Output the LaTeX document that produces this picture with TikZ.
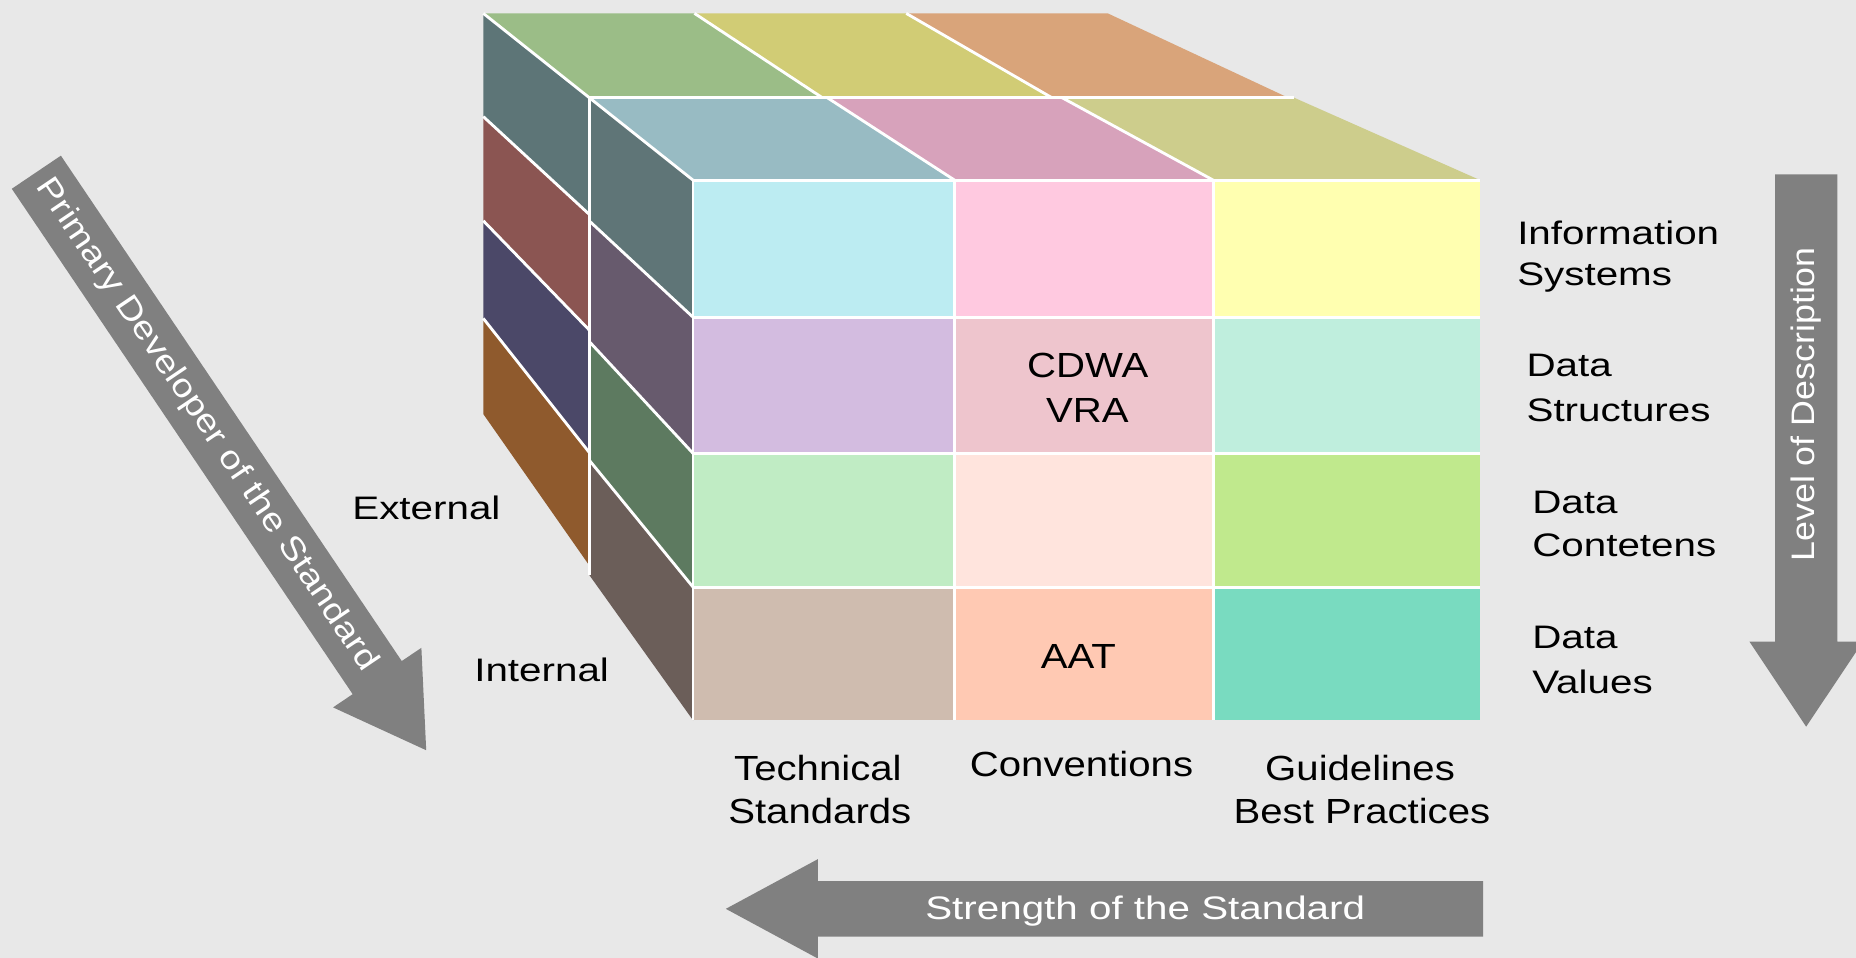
\documentclass[tikz,border=0pt]{standalone}
\usepackage{fontspec}
\setmainfont{Liberation Sans}
\newfontfamily\fA[FakeStretch=1.24]{Liberation Sans}
\newfontfamily\fB[FakeStretch=1.15]{Liberation Sans}
\newfontfamily\fC[FakeStretch=1.10]{Liberation Sans}
\newfontfamily\fD[FakeStretch=1.17]{Liberation Sans}
\definecolor{bg}{HTML}{E8E8E8}
\definecolor{agray}{HTML}{808080}
% top back row
\definecolor{tbA}{HTML}{9BBD87}
\definecolor{tbB}{HTML}{D1CC75}
\definecolor{tbC}{HTML}{D9A47A}
% top front row
\definecolor{tfA}{HTML}{98BBC3}
\definecolor{tfB}{HTML}{D7A2BB}
\definecolor{tfC}{HTML}{CDCD8C}
% back column (side)
\definecolor{sbA}{HTML}{5D7577}
\definecolor{sbB}{HTML}{8B5552}
\definecolor{sbC}{HTML}{4B4868}
\definecolor{sbD}{HTML}{8F5A2D}
% front column (side)
\definecolor{sfA}{HTML}{5F7577}
\definecolor{sfB}{HTML}{675A6D}
\definecolor{sfC}{HTML}{5D7A60}
\definecolor{sfD}{HTML}{6B5E59}
% front face
\definecolor{cAa}{HTML}{BCECF2}
\definecolor{cAb}{HTML}{FFC9E0}
\definecolor{cAc}{HTML}{FFFFB0}
\definecolor{cBa}{HTML}{D3BCE0}
\definecolor{cBb}{HTML}{EEC5CD}
\definecolor{cBc}{HTML}{BFEEDD}
\definecolor{cCa}{HTML}{C0ECC4}
\definecolor{cCb}{HTML}{FFE4DD}
\definecolor{cCc}{HTML}{C0E98D}
\definecolor{cDa}{HTML}{CFBCAF}
\definecolor{cDb}{HTML}{FFC9B3}
\definecolor{cDc}{HTML}{79DBC0}
\newcommand\quadface[5]{\fill[fill=#1] #2 -- #3 -- #4 -- #5 -- cycle;}
\begin{document}
\begin{tikzpicture}[x=1pt,y=-1pt,
  sep/.style={draw=white, line width=2.4pt},
  garrow/.style={fill=agray, draw=none},
  lblA/.style={font=\fA\fontsize{27.5}{36.5}\selectfont, inner sep=0pt, text=black},
  lblB/.style={font=\fB\fontsize{29.5}{37}\selectfont, inner sep=0pt, text=black},
  lblC/.style={font=\fC\fontsize{27.5}{33}\selectfont, inner sep=0pt, text=white},
  lblD/.style={font=\fD\fontsize{27.5}{33}\selectfont, inner sep=0pt, text=white}]
\useasboundingbox (0,0) rectangle (1568,809);
\fill[bg] (0,0) rectangle (1568,809);

% ---------- back slab ----------
\quadface{sbA}{(408.3,11.3)}{(497.7,82.4)}{(497.7,181)}{(408.3,98.5)}
\quadface{sbB}{(408.3,98.5)}{(497.7,181)}{(497.7,278.7)}{(408.3,186.5)}
\quadface{sbC}{(408.3,186.5)}{(497.7,278.7)}{(497.7,382.1)}{(408.3,269)}
\quadface{sbD}{(408.3,269)}{(497.7,382.1)}{(497.7,477.5)}{(408.3,349.8)}
\quadface{tbA}{(408.3,11.3)}{(586.7,11.3)}{(694.5,82.4)}{(497.7,82.4)}
\quadface{tbB}{(586.7,11.3)}{(765.6,11.3)}{(888.4,82.4)}{(694.5,82.4)}
\quadface{tbC}{(765.6,11.3)}{(935.9,11.3)}{(1088,82.4)}{(888.4,82.4)}

% ---------- front slab ----------
\quadface{sfA}{(497.7,82.4)}{(585.5,152.2)}{(585.5,268)}{(497.7,186.5)}
\quadface{sfB}{(497.7,186.5)}{(585.5,268)}{(585.5,383)}{(497.7,288.4)}
\quadface{sfC}{(497.7,288.4)}{(585.5,383)}{(585.5,496)}{(497.7,388.6)}
\quadface{sfD}{(497.7,388.6)}{(585.5,496)}{(585.5,608.5)}{(497.7,485.6)}
\quadface{tfA}{(497.7,82.4)}{(698.7,82.4)}{(806.5,152.2)}{(585.5,152.2)}
\quadface{tfB}{(698.7,82.4)}{(897,82.4)}{(1025,152.2)}{(806.5,152.2)}
\quadface{tfC}{(897,82.4)}{(1093,82.4)}{(1250.5,152.2)}{(1025,152.2)}

% front face cells
\fill[cAa] (585.5,152.2) rectangle (806.5,268);
\fill[cAb] (806.5,152.2) rectangle (1025,268);
\fill[cAc] (1025,152.2) rectangle (1250.5,268);
\fill[cBa] (585.5,268) rectangle (806.5,383);
\fill[cBb] (806.5,268) rectangle (1025,383);
\fill[cBc] (1025,268) rectangle (1250.5,383);
\fill[cCa] (585.5,383) rectangle (806.5,496);
\fill[cCb] (806.5,383) rectangle (1025,496);
\fill[cCc] (1025,383) rectangle (1250.5,496);
\fill[cDa] (585.5,496) rectangle (806.5,608.5);
\fill[cDb] (806.5,496) rectangle (1025,608.5);
\fill[cDc] (1025,496) rectangle (1250.5,608.5);

% ---------- white separators (internal edges only) ----------
% back column
\draw[sep] (408.3,98.5) -- (497.7,181);
\draw[sep] (408.3,186.5) -- (497.7,278.7);
\draw[sep] (408.3,269) -- (497.7,382.1);
% back top row
\draw[sep] (408.3,11.3) -- (497.7,82.4);
\draw[sep] (586.7,11.3) -- (694.5,82.4);
\draw[sep] (765.6,11.3) -- (888.4,82.4);
% front slab boundary with back slab
\draw[sep] (497.7,485.6) -- (497.7,82.4) -- (1093,82.4);
% front column
\draw[sep] (497.7,82.4) -- (585.5,152.2);
\draw[sep] (497.7,186.5) -- (585.5,268);
\draw[sep] (497.7,288.4) -- (585.5,383);
\draw[sep] (497.7,388.6) -- (585.5,496);
% front top row
\draw[sep] (698.7,82.4) -- (806.5,152.2);
\draw[sep] (897,82.4) -- (1025,152.2);
% front face grid
\draw[sep] (585.5,608.5) -- (585.5,152.2) -- (1250.5,152.2);
\draw[sep] (806.5,152.2) -- (806.5,608.5);
\draw[sep] (1025,152.2) -- (1025,608.5);
\draw[sep] (585.5,268) -- (1250.5,268);
\draw[sep] (585.5,383) -- (1250.5,383);
\draw[sep] (585.5,496) -- (1250.5,496);

% cell texts
\node[lblB, anchor=base] (cdwa) at (919,318.9) {CDWA};
\node[lblB, anchor=base] (vra) at (918.6,357.1) {VRA};
\node[lblB, anchor=base] (aat) at (911,565) {AAT};

% row labels
\node[lblA, anchor=base west] (info1) at (1281.6,206.5) {Information};
\node[lblA, anchor=base west] (info2) at (1281.6,241.6) {Systems};
\node[lblA, anchor=base west] (ds1) at (1289.5,318.2) {Data};
\node[lblA, anchor=base west] (ds2) at (1289.5,355.7) {Structures};
\node[lblA, anchor=base west] (dc1) at (1294.3,434) {Data};
\node[lblA, anchor=base west] (dc2) at (1294.3,470) {Contetens};
\node[lblA, anchor=base west] (dv1) at (1294.3,548.2) {Data};
\node[lblA, anchor=base west] (dv2) at (1294.3,585.7) {Values};

% depth labels
\node[lblA, anchor=base west] (ext) at (297.5,439.3) {External};
\node[lblA, anchor=base west] (int) at (400.5,575.9) {Internal};

% column labels
\node[lblB, anchor=base] (tech1) at (691,659) {Technical};
\node[lblB, anchor=base] (tech2) at (692.6,696) {Standards};
\node[lblB, anchor=base] (conv) at (913.7,656.2) {Conventions};
\node[lblB, anchor=base] (guid1) at (1149,659) {Guidelines};
\node[lblB, anchor=base] (guid2) at (1150.6,696) {Best Practices};

% ---------- arrows ----------
\begin{scope}[shift={(30.7,145.5)}, rotate=-56]
  \fill[garrow] (0,-25) -- (515,-25) -- (515,-45) -- (589,0) -- (515,45) -- (515,25) -- (0,25) -- cycle;
\end{scope}
\node[lblD, rotate=-56] (prim) at (174.6,359) {Primary Developer of the Standard};

\fill[garrow] (1499.6,147.3) -- (1552.2,147.3) -- (1552.2,542) -- (1573.9,542)
  -- (1525.9,613.9) -- (1477.9,542) -- (1499.6,542) -- cycle;
\node[lblC, rotate=90] (level) at (1525.6,341.6) {Level of Description};

\fill[garrow] (1253,744.3) -- (1253,791.3) -- (691,791.3) -- (691,809.8)
  -- (613.2,767.8) -- (691,725.8) -- (691,744.3) -- cycle;
\node[lblA, text=white, anchor=base] (strength) at (967.5,777) {Strength of the Standard};
\end{tikzpicture}
\end{document}
